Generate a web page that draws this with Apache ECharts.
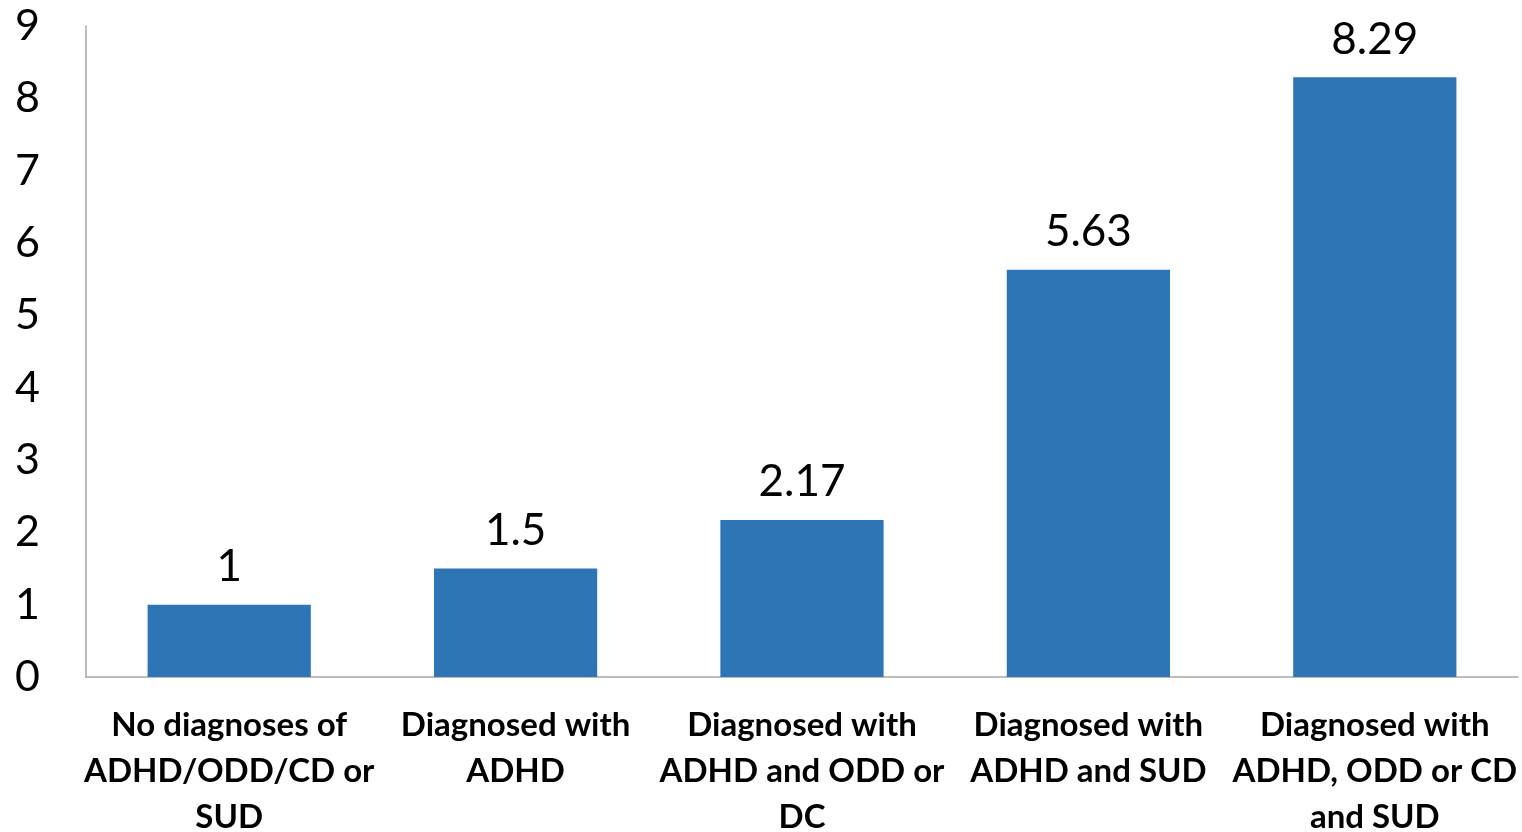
<!DOCTYPE html>
<html>
<head>
<meta charset="utf-8">
<script src="https://cdn.jsdelivr.net/npm/echarts@6/dist/echarts.min.js"></script>
<style>
  html, body { margin: 0; padding: 0; background: #ffffff; }
  #chart { width: 1522px; height: 832px; }
</style>
</head>
<body>
<div id="chart"></div>
<script>
// Diagnostic groups shown along the bottom
const categories = [
  'No diagnoses of\nADHD/ODD/CD or\nSUD',
  'Diagnosed with\nADHD',
  'Diagnosed with\nADHD and ODD or\nDC',
  'Diagnosed with\nADHD and SUD',
  'Diagnosed with\nADHD, ODD or CD\nand SUD'
];
// Value for each group
const values = [1, 1.5, 2.17, 5.63, 8.29];
// Vertical axis range
const yMin = 0;
const yMax = 9;
const yStep = 1;

const chart = echarts.init(document.getElementById('chart'));
chart.setOption({
  animation: false,
  backgroundColor: '#ffffff',
  grid: { left: 86, right: 4, top: 26, bottom: 155, containLabel: false, outerBoundsMode: 'none' },
  xAxis: {
    type: 'category',
    data: categories,
    axisLine: { lineStyle: { color: '#a6a6a6', width: 1.5 } },
    axisTick: { show: false },
    axisLabel: {
      interval: 0,
      margin: 25,
      color: '#000000',
      fontFamily: 'Lato',
      fontWeight: 'bold',
      fontSize: 33,
      lineHeight: 46
    }
  },
  yAxis: {
    type: 'value',
    min: yMin,
    max: yMax,
    interval: yStep,
    axisLine: { show: true, lineStyle: { color: '#a6a6a6', width: 1.5 } },
    axisTick: { show: false },
    splitLine: { show: false },
    axisLabel: {
      margin: 46,
      color: '#000000',
      fontFamily: 'Lato',
      fontSize: 43
    }
  },
  series: [{
    type: 'bar',
    data: values,
    barWidth: '57%',
    itemStyle: { color: '#2e75b6' },
    label: {
      show: true,
      position: 'top',
      distance: 16,
      color: '#000000',
      fontFamily: 'Lato',
      fontSize: 44
    }
  }]
});
</script>
</body>
</html>
